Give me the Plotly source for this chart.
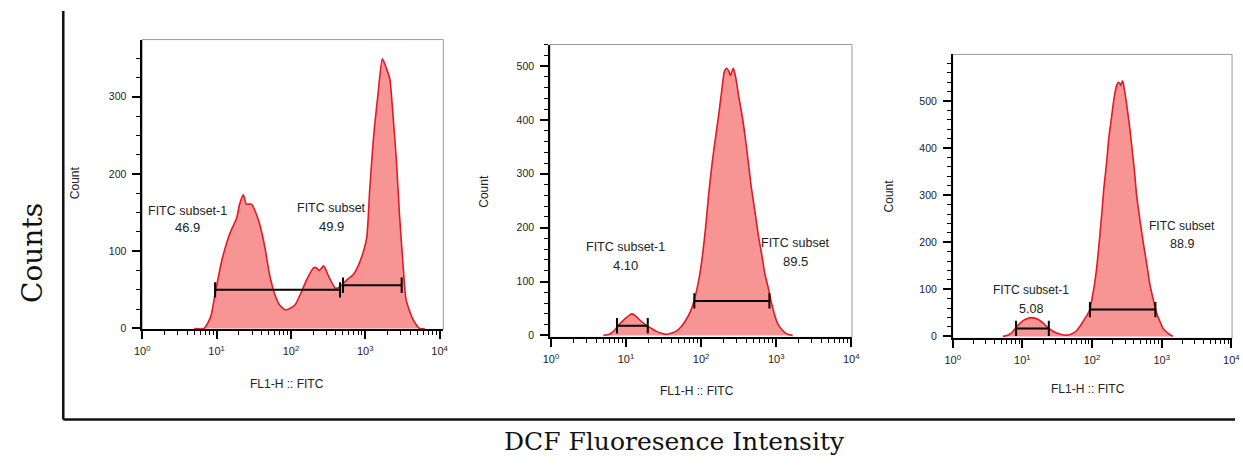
import numpy as np
import plotly.graph_objects as go

# ---------------- data (x in log10 decades, y = counts) ----------------
p1_logx = [0.70, 0.83, 0.92, 0.98, 1.07, 1.16, 1.20, 1.27, 1.31, 1.36, 1.40, 1.47, 1.51, 1.58, 1.65, 1.71,
           1.78, 1.85, 1.93, 2.05, 2.13, 2.22, 2.31, 2.35, 2.38, 2.44, 2.51, 2.60, 2.66, 2.72, 2.78, 2.84,
           2.90, 2.96, 3.02, 3.06, 3.11, 3.17, 3.23, 3.28, 3.33, 3.37, 3.42, 3.46, 3.51, 3.55, 3.64, 3.73, 3.80]
p1_count = [0, 0, 15, 45, 88, 118, 128, 143, 161, 173, 161, 161, 154, 135, 105, 71,
            45, 30, 24, 30, 45, 65, 79, 78, 75, 81, 67, 52, 54, 60, 65, 70,
            80, 95, 118, 180, 246, 302, 349, 338, 323, 280, 216, 148, 80, 37, 12, 0, 0]

p2_logx = [0.70, 0.78, 0.85, 0.92, 0.99, 1.05, 1.08, 1.13, 1.18, 1.24, 1.29, 1.35, 1.40, 1.47, 1.54, 1.60,
           1.67, 1.74, 1.80, 1.86, 1.91, 1.97, 2.02, 2.06, 2.10, 2.15, 2.20, 2.24, 2.28, 2.31, 2.34, 2.37,
           2.39, 2.41, 2.43, 2.46, 2.50, 2.55, 2.59, 2.63, 2.67, 2.72, 2.76, 2.81, 2.85, 2.90, 2.94, 2.98,
           3.02, 3.08, 3.15, 3.22]
p2_count = [0, 2, 10, 22, 31, 38, 40, 36, 29, 22, 17, 12, 8, 4, 2, 4,
            8, 17, 29, 45, 66, 103, 150, 200, 260, 323, 375, 415, 460, 490, 496, 490,
            482, 490, 496, 480, 445, 405, 366, 320, 274, 228, 188, 148, 114, 85, 59, 38,
            22, 10, 2, 0]

p3_logx = [0.72, 0.80, 0.86, 0.92, 0.98, 1.04, 1.13, 1.23, 1.30, 1.35, 1.44, 1.56, 1.66, 1.72, 1.77, 1.83,
           1.89, 1.94, 1.97, 2.00, 2.03, 2.07, 2.10, 2.14, 2.17, 2.21, 2.24, 2.28, 2.31, 2.34, 2.36, 2.38,
           2.40, 2.41, 2.43, 2.44, 2.47, 2.50, 2.54, 2.57, 2.61, 2.64, 2.69, 2.74, 2.79, 2.83, 2.88, 2.93,
           2.98, 3.02, 3.09, 3.16]
p3_count = [0, 3, 10, 21, 30, 36, 40, 36, 28, 21, 11, 4, 3, 6, 11, 22,
            36, 48, 57, 80, 105, 150, 195, 260, 315, 370, 420, 465, 500, 525, 536, 540,
            537, 533, 540, 543, 520, 490, 445, 405, 350, 300, 245, 195, 150, 111, 78, 48,
            30, 17, 7, 0]

# gates: [low, high] in log10 decades, and bar height (counts)
p1_gate_lo = [0.98, 2.70]
p1_gate_hi = [2.66, 3.49]
p1_gate_y = [50, 56]
p2_gate_lo = [0.88, 1.91]
p2_gate_hi = [1.29, 2.91]
p2_gate_y = [18, 64]
p3_gate_lo = [0.91, 1.97]
p3_gate_hi = [1.38, 2.91]
p3_gate_y = [17, 57]

gate_names = ["FITC subset-1", "FITC subset"]
p1_pct = ["46.9", "49.9"]
p2_pct = ["4.10", "89.5"]
p3_pct = ["5.08", "88.9"]

x_tick_exp = [0, 1, 2, 3, 4]
p1_yticks = [0, 100, 200, 300]
p2_yticks = [0, 100, 200, 300, 400, 500]
p3_yticks = [0, 100, 200, 300, 400, 500]

# ---------------- styling ----------------
W, H = 1243, 473
FILL = "#F79494"
LINE = "#E01B24"
SANS = "Arial, Liberation Sans, sans-serif"
TICKFONT = dict(family=SANS, size=10.5, color="#222")
LABFONT = dict(family=SANS, size=12, color="#222")
SERIF = "DejaVu Serif, Liberation Serif, serif"

panels = [
    dict(logx=p1_logx, cnt=p1_count, glo=p1_gate_lo, ghi=p1_gate_hi, gy=p1_gate_y, pct=p1_pct,
         yt=p1_yticks, ydt=25, xpx=(136, 441), ypx=(40, 333), xr=(0, 4.05), yr=(-1.3, 374),
         lab=[(0.61, 152, 131), (2.55, 156, 132)], lsize=12.5,
         ytitle=(68, 185), xtitle=(283, 388)),
    dict(logx=p2_logx, cnt=p2_count, glo=p2_gate_lo, ghi=p2_gate_hi, gy=p2_gate_y, pct=p2_pct,
         yt=p2_yticks, ydt=20, xpx=(549, 855), ypx=(45, 341), xr=(-0.013, 4.01), yr=(-3.7, 540),
         lab=[(1.0, 164, 130), (3.26, 171, 138)], lsize=12.5,
         ytitle=(482, 193), xtitle=(698, 395)),
    dict(logx=p3_logx, cnt=p3_count, glo=p3_gate_lo, ghi=p3_gate_hi, gy=p3_gate_y, pct=p3_pct,
         yt=p3_yticks, ydt=20, xpx=(957, 1240), ypx=(55, 342), xr=(0, 4.01), yr=(-4.2, 599),
         lab=[(1.13, 99, 59), (3.29, 235, 197)], lsize=12,
         ytitle=(892, 198), xtitle=(1094, 393)),
]

fig = go.Figure()
shapes = []
annotations = []
minor_x = [k * 10 ** n for n in range(0, 4) for k in range(2, 10)]

for i, p in enumerate(panels, start=1):
    xa = "x" if i == 1 else f"x{i}"
    ya = "y" if i == 1 else f"y{i}"
    xkey = "xaxis" if i == 1 else f"xaxis{i}"
    ykey = "yaxis" if i == 1 else f"yaxis{i}"

    xs = 10 ** np.array(p["logx"])
    fig.add_trace(go.Scatter(x=xs, y=p["cnt"], mode="lines", fill="tozeroy",
                             fillcolor=FILL, line=dict(color=LINE, width=1.6, shape="spline", smoothing=0.6),
                             xaxis=xa, yaxis=ya, showlegend=False, hoverinfo="skip"))
    for lo, hi, gy in zip(p["glo"], p["ghi"], p["gy"]):
        fig.add_trace(go.Scatter(x=[10 ** lo, 10 ** hi], y=[gy, gy], mode="lines+markers",
                                 line=dict(color="black", width=2),
                                 marker=dict(symbol="line-ns-open", size=11, line=dict(color="black", width=2)),
                                 xaxis=xa, yaxis=ya, showlegend=False, hoverinfo="skip"))

    x0, x1 = p["xpx"][0] / W, p["xpx"][1] / W
    y0, y1 = 1 - p["ypx"][1] / H, 1 - p["ypx"][0] / H
    fig.layout[xkey] = dict(
        domain=[x0, x1], type="log", range=list(p["xr"]), anchor=ya,
        showline=True, linecolor="black", linewidth=1.5, mirror=False,
        ticks="outside", ticklen=8, tickwidth=1.5, tickcolor="black",
        tickvals=[10 ** e for e in x_tick_exp],
        ticktext=[f"10<sup>{e}</sup>" for e in x_tick_exp],
        tickfont=dict(family=SANS, size=11, color="#222"), ticklabelstandoff=3,
        minor=dict(tickvals=minor_x, ticks="outside", ticklen=4, tickwidth=1, tickcolor="black"),
        showgrid=False, zeroline=False, fixedrange=True)
    fig.layout[ykey] = dict(
        domain=[y0, y1], range=list(p["yr"]), anchor=xa,
        showline=True, linecolor="black", linewidth=1.5, mirror=False,
        ticks="outside", ticklen=8, tickwidth=1.5, tickcolor="black",
        tickvals=p["yt"], tickfont=TICKFONT, ticklabelstandoff=4,
        minor=dict(dtick=p["ydt"], ticks="outside", ticklen=4, tickwidth=1, tickcolor="black", showgrid=False),
        showgrid=False, zeroline=False, fixedrange=True)

    shapes.append(dict(type="rect", xref=f"{xa} domain", yref=f"{ya} domain", x0=0, x1=1, y0=0, y1=1,
                       line=dict(color="#9a9a9a", width=1), layer="below"))

    for (lx, ny, vy), name, pct in zip(p["lab"], gate_names, p["pct"]):
        annotations.append(dict(x=lx, y=ny, xref=xa, yref=ya, text=name, showarrow=False,
                                xanchor="center", yanchor="middle",
                                font=dict(family=SANS, size=p["lsize"], color="#222")))
        annotations.append(dict(x=lx, y=vy, xref=xa, yref=ya, text=pct, showarrow=False,
                                xanchor="center", yanchor="middle",
                                font=dict(family=SANS, size=p["lsize"] + 0.5, color="#222")))

    annotations.append(dict(x=p["ytitle"][0] / W, y=1 - p["ytitle"][1] / H, xref="paper", yref="paper",
                            text="Count", textangle=-90, showarrow=False,
                            xanchor="center", yanchor="middle", font=LABFONT))
    annotations.append(dict(x=p["xtitle"][0] / W, y=1 - p["xtitle"][1] / H, xref="paper", yref="paper",
                            text="FL1-H :: FITC", showarrow=False,
                            xanchor="center", yanchor="middle", font=LABFONT))

# outer frame lines
fx = 56 / W
shapes.append(dict(type="line", xref="paper", yref="paper", x0=fx, x1=fx, y0=1 - 424 / H, y1=1 - 11 / H,
                   line=dict(color="#111", width=2.5)))
shapes.append(dict(type="line", xref="paper", yref="paper", x0=fx, x1=1, y0=1 - 424 / H, y1=1 - 424 / H,
                   line=dict(color="#111", width=2.5)))

annotations.append(dict(x=25 / W, y=1 - 256 / H, xref="paper", yref="paper", text="Counts",
                        textangle=-90, showarrow=False, xanchor="center", yanchor="middle",
                        font=dict(family=SERIF, size=28, color="#111")))
annotations.append(dict(x=675 / W, y=1 - 446 / H, xref="paper", yref="paper", text="DCF Fluoresence Intensity",
                        showarrow=False, xanchor="center", yanchor="middle",
                        font=dict(family=SERIF, size=25, color="#111")))

fig.update_layout(width=W, height=H, margin=dict(l=0, r=0, t=0, b=0),
                  paper_bgcolor="white", plot_bgcolor="white",
                  shapes=shapes, annotations=annotations, showlegend=False)

fig.write_html("out.html", config=dict(displayModeBar=False),
               post_script="document.body.style.margin='0';document.body.style.overflow='hidden';")
